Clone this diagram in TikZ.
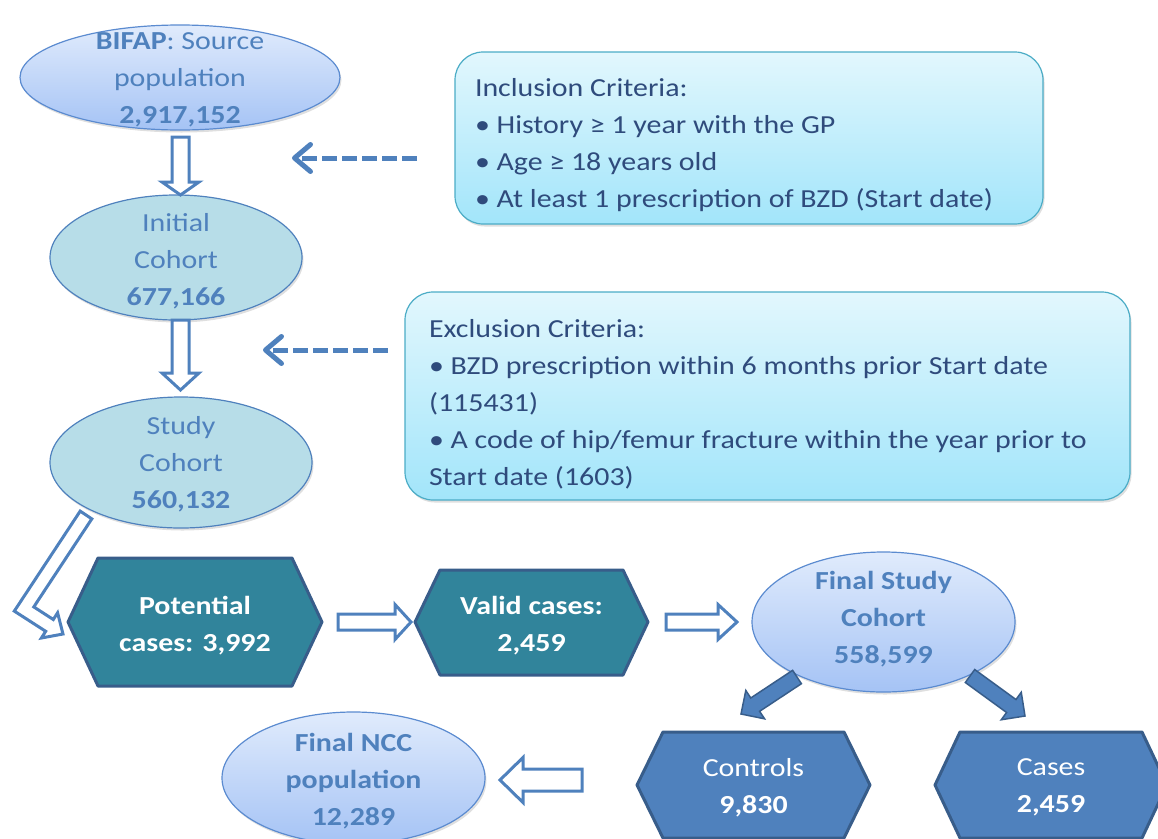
\documentclass[tikz,border=0pt]{standalone}
\usepackage{fontspec}
\setmainfont{Carlito}[FakeStretch=1.15]
\usetikzlibrary{calc,arrows.meta,shadows,shapes.geometric}
\definecolor{ebtop}{HTML}{E0EBFC}
\definecolor{ebbot}{HTML}{A5C3F5}
\definecolor{ebdraw}{HTML}{5B8BD0}
\definecolor{eteal}{HTML}{B7DDE8}
\definecolor{etext}{HTML}{4F81BD}
\definecolor{cbtop}{HTML}{E2F7FD}
\definecolor{cbbot}{HTML}{A2E5FA}
\definecolor{cbdraw}{HTML}{4BACC6}
\definecolor{cbtext}{HTML}{2F4B7C}
\definecolor{hteal}{HTML}{31849B}
\definecolor{hblue}{HTML}{4F81BD}
\definecolor{hdraw}{HTML}{385D8A}
\definecolor{abl}{HTML}{4F81BD}
\newcommand\blockarrow[6]{%
  \coordinate (ba-a) at #2; \coordinate (ba-b) at #3;
  \coordinate (ba-h) at ($(ba-b)!#6!(ba-a)$);
  \draw[#1] ($(ba-a)!#4!90:(ba-b)$) -- ($(ba-h)!#4!-90:(ba-a)$) -- ($(ba-h)!#5!-90:(ba-a)$) -- (ba-b)
    -- ($(ba-h)!#5!90:(ba-a)$) -- ($(ba-h)!#4!90:(ba-a)$) -- ($(ba-a)!#4!-90:(ba-b)$) -- cycle;}
\begin{document}
\begin{tikzpicture}[x=1pt,y=-1pt,
  every node/.style={inner sep=0pt, outer sep=0pt},
  txt/.style={font=\fontsize{26}{37}\selectfont, align=center, yshift=-2.5pt},
  eshadow/.style={drop shadow={opacity=0.25, shadow xshift=1.5pt, shadow yshift=-2.5pt}},
  ellblue/.style={ellipse, draw=ebdraw, line width=1.2pt, top color=ebtop, bottom color=ebbot, eshadow},
  ellteal/.style={ellipse, draw=abl, line width=1.2pt, fill=eteal, eshadow},
  critbox/.style={rectangle, rounded corners=28pt, draw=cbdraw, line width=1.2pt, top color=cbtop, bottom color=cbbot, eshadow},
  crittext/.style={txt, align=left, text=cbtext, anchor=west},
  hexteal/.style={draw=hdraw, line width=3pt, fill=hteal, line join=round},
  hexblue/.style={draw=hdraw, line width=3pt, fill=hblue, line join=round},
  hollow/.style={draw=abl, line width=3pt, fill=white, line join=miter},
  solidarrow/.style={draw=hdraw, line width=1.5pt, fill=hblue, line join=miter},
  dasharrow/.style={draw=abl, line width=5pt, dash pattern=on 15pt off 5pt,
     -{Straight Barb[length=16pt, width=27pt, line join=round, line cap=round]}},
]
\useasboundingbox (0,0) rectangle (1158,838);
\clip (0,0) rectangle (1158,838);

% ellipses
\node[ellblue, minimum width=320pt, minimum height=105pt] (bifap) at (180,77.5) {};
\node[txt, text=etext] (bifapT) at (180,77) {\textbf{BIFAP}: Source\\population\\\textbf{2,917,152}};
\node[ellteal, minimum width=252pt, minimum height=125pt] (initial) at (176,257.5) {};
\node[txt, text=etext] (initialT) at (176,259) {Initial\\Cohort\\\textbf{677,166}};
\node[ellteal, minimum width=262pt, minimum height=131pt] (study) at (181,462.5) {};
\node[txt, text=etext] (studyT) at (181,462) {Study\\Cohort\\\textbf{560,132}};
\node[ellblue, minimum width=263pt, minimum height=140pt] (final) at (883.5,622) {};
\node[txt, text=etext, font=\fontsize{26}{37}\selectfont\bfseries] (finalT) at (883.5,617) {Final Study\\Cohort\\558,599};
\node[ellblue, minimum width=263pt, minimum height=132pt] (ncc) at (353.5,778) {};
\node[txt, text=etext, font=\fontsize{26}{37}\selectfont\bfseries] (nccT) at (353.5,779) {Final NCC\\population\\12,289};

% criteria boxes
\node[critbox, minimum width=588pt, minimum height=172pt] (incl) at (749,138) {};
\node[crittext] (inclT) at (475,142.5) {Inclusion Criteria:\\
• History ≥ 1 year with the GP\\
• Age ≥ 18 years old\\
• At least 1 prescription of BZD (Start date)};
\node[critbox, minimum width=725pt, minimum height=208pt] (excl) at (767.5,396) {};
\node[crittext] (exclT) at (429,402) {Exclusion Criteria:\\
• BZD prescription within 6 months prior Start date\\
(115431)\\
• A code of hip/femur fracture within the year prior to\\
Start date (1603)};

% dashed arrows
\coordinate (d1s) at (417,158);
\coordinate (d1e) at (292,158);
\coordinate (d2s) at (388,350);
\coordinate (d2e) at (263,350);
\draw[dasharrow] (d1s) -- (d1e);
\draw[dasharrow] (d2s) -- (d2e);

% hexagons
\draw[hexteal] (68,622) -- (98,558) -- (292,558) -- (322,622) -- (292,686) -- (98,686) -- cycle;
\node[txt, text=white, font=\fontsize{26}{37}\selectfont\bfseries] (pot) at (195,623) {Potential\\cases: 3,992};
\draw[hexteal] (415,622) -- (440,570) -- (623,570) -- (648,622) -- (623,675) -- (440,675) -- cycle;
\node[txt, text=white, font=\fontsize{26}{37}\selectfont\bfseries] (valid) at (531.5,623) {Valid cases:\\2,459};
\draw[hexblue] (637,785) -- (663,732) -- (844,732) -- (870,785) -- (844,838) -- (663,838) -- cycle;
\node[txt, text=white] (ctrl) at (753.5,785) {Controls\\\textbf{9,830}};
\draw[hexblue] (935,785) -- (960,732) -- (1142,732) -- (1167,785) -- (1142,838) -- (960,838) -- cycle;
\node[txt, text=white] (cases) at (1051,785) {Cases\\\textbf{2,459}};

% block arrows
\blockarrow{hollow}{(180.5,137)}{(180.5,195)}{8.5pt}{18.5pt}{13pt}
\blockarrow{hollow}{(180.5,320)}{(180.5,390)}{8.5pt}{18.5pt}{17pt}
\blockarrow{hollow}{(338,622)}{(411,622)}{8pt}{17.5pt}{16pt}
\blockarrow{hollow}{(666,622)}{(737,622)}{8pt}{17.5pt}{19pt}
\blockarrow{hollow}{(582,780)}{(500,780)}{11pt}{22.5pt}{23pt}
\blockarrow{solidarrow}{(797,677)}{(741,714)}{8pt}{17pt}{17pt}
\blockarrow{solidarrow}{(970,676)}{(1025,716)}{8pt}{17pt}{17pt}
\draw[hollow] (80.2,511.1) -- (14.3,611.1) -- (45.7,631.3) -- (41.4,638) -- (63,634)
  -- (57.6,612.8) -- (53.3,619.5) -- (33.8,606.9) -- (91.8,518.9) -- cycle;
\end{tikzpicture}
\end{document}
